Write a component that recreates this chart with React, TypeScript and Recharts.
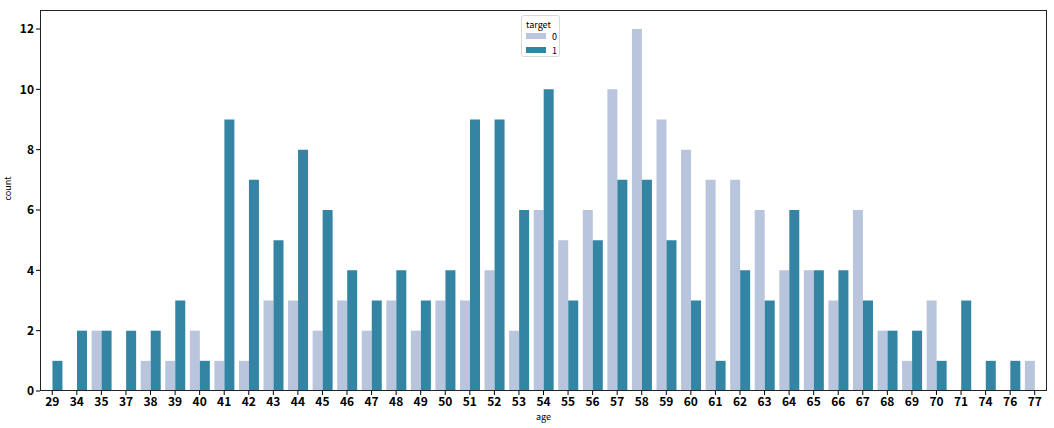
import { BarChart, Bar, XAxis, YAxis, Legend } from "recharts"

const ages = [
  29, 34, 35, 37, 38, 39, 40, 41, 42, 43, 44, 45, 46, 47, 48, 49, 50, 51, 52, 53, 54,
  55, 56, 57, 58, 59, 60, 61, 62, 63, 64, 65, 66, 67, 68, 69, 70, 71, 74, 76, 77,
]
const target0 = [
  0, 0, 2, 0, 1, 1, 2, 1, 1, 3, 3, 2, 3, 2, 3, 2, 3, 3, 4, 2, 6,
  5, 6, 10, 12, 9, 8, 7, 7, 6, 4, 4, 3, 6, 2, 1, 3, 0, 0, 0, 1,
]
const target1 = [
  1, 2, 2, 2, 2, 3, 1, 9, 7, 5, 8, 6, 4, 3, 4, 3, 4, 9, 9, 6, 10,
  3, 5, 7, 7, 5, 3, 1, 4, 3, 6, 4, 4, 3, 2, 2, 1, 3, 1, 1, 0,
]
const yTicks = [0, 2, 4, 6, 8, 10, 12]

const data = ages.map((a, i) => ({ age: String(a), t0: target0[i], t1: target1[i] }))

const LIGHT = "#b9c5dc"
const DARK = "#3385a3"
const FONT = "'Noto Sans CJK SC', 'DejaVu Sans', sans-serif"

const W = 1054
const H = 428
const M = { top: 10, right: 7, left: 0, bottom: 0 }
const Y_W = 40
const X_H = 37

function LegendBox() {
  return (
    <div
      style={{
        position: "absolute",
        left: 521,
        top: 15,
        width: 39,
        height: 42,
        border: "1px solid #d8d8d8",
        borderRadius: 3,
        background: "#fff",
        fontFamily: FONT,
        fontSize: 9,
        color: "#000",
        boxSizing: "border-box",
      }}
    >
      <div style={{ position: "absolute", left: 4, top: 2 }}>target</div>
      <div style={{ position: "absolute", left: 4, top: 17, width: 20, height: 6, background: LIGHT }} />
      <div style={{ position: "absolute", left: 30, top: 14 }}>0</div>
      <div style={{ position: "absolute", left: 4, top: 31, width: 20, height: 6, background: DARK }} />
      <div style={{ position: "absolute", left: 30, top: 28 }}>1</div>
    </div>
  )
}

export default function App() {
  return (
    <div style={{ position: "absolute", left: 0, top: 0, width: W, height: H, background: "#fff" }}>
      <BarChart
        width={W}
        height={H}
        data={data}
        margin={M}
        barCategoryGap="10%"
        barGap={0}
        style={{ fontFamily: FONT }}
      >
        <XAxis
          dataKey="age"
          height={X_H}
          interval={0}
          axisLine={false}
          tickLine={{ stroke: "#000" }}
          tickSize={4}
          tick={{ fontSize: 12, fill: "#000", fontFamily: FONT, fontWeight: 600 }}
          label={{ value: "age", position: "insideBottom", offset: 8, fontSize: 9, fill: "#000" }}
        />
        <YAxis
          width={Y_W}
          domain={[0, 12.63]}
          ticks={yTicks}
          allowDataOverflow
          axisLine={false}
          tickLine={{ stroke: "#000" }}
          tickSize={4}
          tick={{ fontSize: 12, fill: "#000", fontFamily: FONT, fontWeight: 600 }}
          label={{ value: "count", angle: -90, position: "insideLeft", offset: 8, fontSize: 9, fill: "#000" }}
        />
        <Legend content={() => null} />
        <Bar dataKey="t0" fill={LIGHT} isAnimationActive={false} />
        <Bar dataKey="t1" fill={DARK} isAnimationActive={false} />
      </BarChart>
      <div
        style={{
          position: "absolute",
          left: Y_W,
          top: M.top,
          width: W - Y_W - M.right,
          height: H - M.top - X_H,
          border: "1px solid #222",
          boxSizing: "border-box",
          pointerEvents: "none",
        }}
      />
      <LegendBox />
    </div>
  )
}
